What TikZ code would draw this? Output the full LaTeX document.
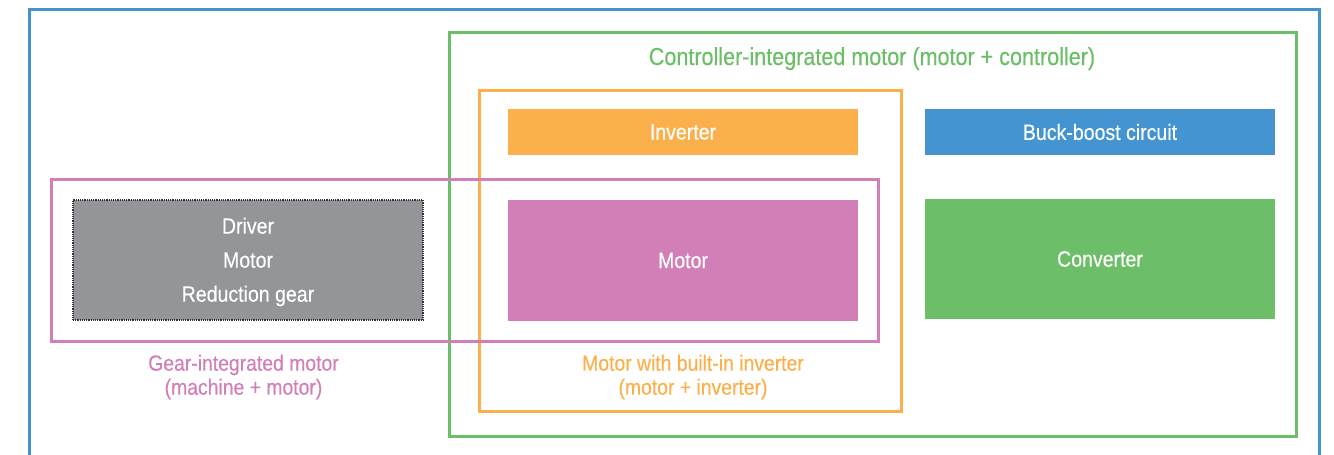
\documentclass[tikz,border=0pt]{standalone}
\usepackage{fontspec}
\setmainfont{Liberation Sans}[FakeStretch=0.88,FakeBold=0.35]
\definecolor{cblue}{RGB}{67,148,208}
\definecolor{cgreen}{RGB}{108,191,104}
\definecolor{corange}{RGB}{251,176,76}
\definecolor{cpink}{RGB}{209,127,182}
\definecolor{cgray}{RGB}{147,149,152}
\definecolor{cdot}{RGB}{50,50,52}
\tikzset{
  frame/.style={rectangle, draw, line width=3pt, inner sep=0pt},
  fillbox/.style={rectangle, inner sep=0pt, text=white, minimum width=350pt,
    font=\fontsize{22.2}{34}\selectfont, align=center},
  caption/.style={inner sep=0pt, align=center, font=\fontsize{22}{24}\selectfont},
}
\begin{document}
\begin{tikzpicture}[x=1pt,y=-1pt]
\useasboundingbox (0,0) rectangle (1334,455);
\clip (0,0) rectangle (1334,455);
% frames
\node[frame, draw=cblue, minimum width=1290pt, minimum height=491pt] (outer) at (674,254.5) {};
\node[frame, draw=cgreen, minimum width=847pt, minimum height=404pt] (ctrl) at (872.5,234) {};
\node[frame, draw=corange, minimum width=422pt, minimum height=321pt] (builtin) at (690,250.5) {};
\node[frame, draw=cpink, minimum width=827pt, minimum height=162pt] (gear) at (464.5,260) {};
% boxes
\node[fillbox, fill=cgray, draw=cdot, line width=1.2pt, dash pattern=on 1.2pt off 1pt,
      minimum height=120pt] (machine) at (248,260) {\rule{0pt}{20pt}Driver\\Motor\\Reduction gear};
\node[fillbox, fill=corange, minimum height=46pt] (inverter) at (683,132) {Inverter};
\node[fillbox, fill=cpink, minimum height=121pt] (motor) at (683,260.5) {Motor};
\node[fillbox, fill=cblue, minimum height=46pt] (buck) at (1100,132) {Buck-boost circuit};
\node[fillbox, fill=cgreen, minimum height=120pt] (conv) at (1100,259) {Converter};
% captions
\node[caption, anchor=base, text=cgreen, font=\fontsize{24.5}{28}\selectfont] (ctrltitle) at (872,65) {Controller-integrated motor (motor + controller)};
\node[caption, text=cpink] (gearlabel) at (243.5,377) {Gear-integrated motor\\(machine + motor)};
\node[caption, text=corange] (builtinlabel) at (693,377) {Motor with built-in inverter\\(motor + inverter)};
\end{tikzpicture}
\end{document}
